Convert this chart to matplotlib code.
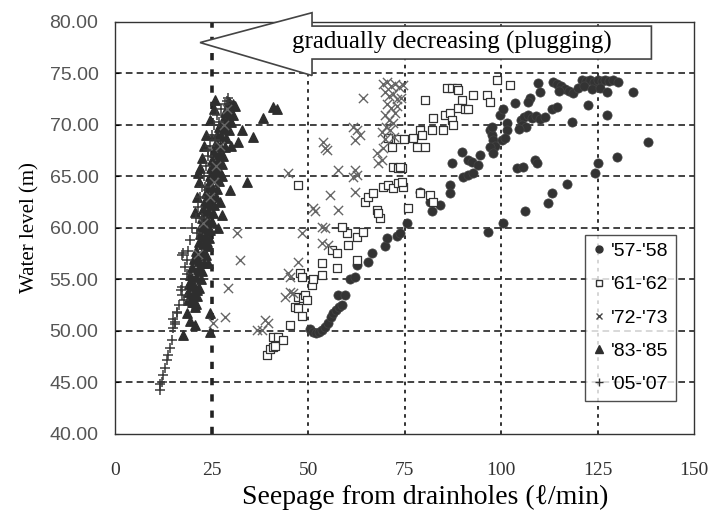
import matplotlib
matplotlib.use('Agg')
import matplotlib.pyplot as plt
from matplotlib import patches
from matplotlib.lines import Line2D

# '57-'58 (filled circles)
s57_x = [50.5, 51.2, 52.0, 52.8, 53.6, 54.4, 55.2, 55.8, 56.5, 57.2, 58.0, 58.8, 57.8, 59.6,
         60.9, 62.2, 62.7, 65.5, 66.6, 70.0, 70.5, 73.0, 73.8, 75.6, 79.0, 81.6, 82.1, 84.2,
         86.8, 86.8, 87.3, 89.9, 90.2, 91.5, 92.7, 91.5, 92.5, 94.0, 94.6, 96.6, 100.5, 97.0,
         97.7, 98.0, 98.4, 97.0, 98.0, 97.7, 99.7, 100.5, 101.6, 101.6, 100.3, 101.0, 103.6,
         107.5, 107.0, 109.6, 110.1, 105.0, 106.0, 107.0, 108.0, 109.0, 110.0, 105.5, 106.5,
         104.5, 108.8, 109.3, 104.1, 105.7, 111.4, 113.2, 114.5, 113.2, 112.2, 106.2, 117.1,
         113.5, 114.5, 115.5, 116.5, 117.5, 118.7, 115.0, 121.0, 122.0, 123.0, 124.0, 125.0,
         126.0, 127.0, 128.0, 129.0, 130.3, 120.0, 121.5, 123.5, 125.5, 127.5, 122.5, 127.5,
         134.2, 118.4, 138.1, 130.0, 125.1, 124.3]
s57_y = [50.2, 49.9, 49.8, 49.9, 50.1, 50.4, 50.8, 51.3, 51.7, 52.0, 52.3, 52.5, 53.5, 53.5,
         55.0, 55.2, 56.4, 56.7, 57.6, 58.2, 59.0, 59.2, 59.5, 60.5, 63.5, 62.5, 61.6, 62.2,
         64.2, 63.4, 66.3, 67.4, 64.9, 65.1, 65.3, 66.6, 66.4, 66.1, 67.1, 59.6, 60.5, 69.5,
         69.0, 68.5, 68.0, 67.9, 67.3, 69.8, 71.0, 71.5, 70.2, 69.5, 68.5, 68.7, 72.1,
         72.6, 72.2, 74.1, 73.2, 70.5, 70.8, 71.0, 70.7, 70.9, 70.6, 70.0, 69.8,
         69.6, 66.6, 66.3, 65.8, 65.9, 70.8, 71.5, 71.7, 63.4, 62.4, 61.6, 64.3,
         74.2, 74.0, 73.8, 73.5, 73.3, 73.1, 73.3, 74.4, 74.3, 74.4, 74.2, 74.4,
         74.3, 74.4, 74.3, 74.4, 74.2, 73.6, 73.8, 73.5, 73.6, 73.2, 71.9, 71.0,
         73.2, 70.3, 68.3, 66.9, 66.3, 65.3]

# '61-'62 (open squares)
s61_x = [39.4, 40.2, 40.9, 41.5, 40.9, 42.2, 43.5, 45.3, 46.6, 47.4, 48.4, 47.4, 48.7, 49.2,
         49.7, 47.9, 48.4, 51.0, 51.3, 53.6, 53.6, 57.5, 56.2, 57.5, 60.4, 62.7, 60.1, 62.7,
         64.2, 58.8, 47.4, 64.8, 65.5, 66.8, 67.9, 68.7, 68.1, 69.4, 70.7, 72.0, 73.3, 74.6,
         72.0, 73.3, 74.4, 70.7, 71.8, 73.3, 74.9, 77.2, 78.2, 80.3, 79.0, 79.5, 82.1, 82.4,
         85.0, 85.5, 86.8, 87.3, 87.6, 80.3, 86.0, 87.3, 88.6, 88.9, 89.9, 88.9, 90.7, 91.5,
         92.7, 96.4, 97.2, 99.0, 102.3, 73.8, 74.4, 75.9, 79.0, 81.6, 82.4]
s61_y = [47.7, 48.2, 48.4, 48.5, 49.4, 49.4, 49.1, 50.6, 52.3, 52.2, 51.4, 53.3, 53.2, 53.5,
         53.0, 55.6, 55.2, 54.5, 55.0, 55.4, 56.6, 56.1, 57.9, 57.6, 58.3, 56.9, 59.5, 59.1,
         59.6, 60.1, 64.2, 62.5, 63.0, 63.4, 61.7, 61.0, 61.4, 64.0, 64.2, 63.9, 64.4, 64.0,
         65.9, 65.8, 65.8, 68.7, 67.9, 68.6, 68.6, 68.7, 67.9, 67.9, 69.5, 69.0, 69.5, 70.7,
         69.5, 71.0, 71.2, 70.5, 70.0, 72.4, 73.6, 73.6, 73.6, 73.4, 72.4, 71.6, 71.5, 71.5,
         72.9, 72.9, 72.2, 74.4, 73.9, 65.9, 64.5, 61.9, 63.4, 63.2, 62.5]

# '72-'73 (x marks)
s72_x = [64.2, 61.7, 62.7, 63.5, 62.2, 53.9, 54.4, 54.9, 57.8, 62.2, 62.7, 61.7, 44.8, 55.7,
         62.2, 51.3, 51.8, 57.8, 53.6, 54.4, 48.4, 67.9, 69.2, 68.1, 53.6, 55.2, 47.4, 44.8,
         45.3, 44.0, 45.3, 46.1, 38.9, 39.6, 36.8, 38.1, 32.4, 29.3, 25.4, 28.5, 31.6,
         69.5, 70.5, 71.5, 72.5, 73.5, 74.5, 70.0, 71.0, 72.0, 73.0, 70.5, 71.5, 72.5, 69.8,
         71.0, 72.0, 70.2, 69.0, 71.2, 70.0, 72.3, 69.5, 73.0, 74.0,
         26.0, 27.2, 28.3, 24.5, 22.8, 21.5, 25.5, 29.0]
s72_y = [72.6, 69.8, 69.5, 69.0, 68.5, 68.3, 67.8, 67.6, 65.6, 65.6, 65.1, 64.9, 65.3, 63.2,
         63.5, 61.9, 61.6, 61.7, 60.1, 60.0, 59.5, 67.3, 66.6, 66.3, 58.5, 58.3, 56.7, 55.6,
         55.2, 53.3, 53.8, 53.7, 51.1, 50.8, 50.1, 50.1, 56.9, 54.2, 50.8, 51.3, 59.5,
         74.0, 74.2, 73.8, 74.0, 73.7, 73.9, 73.2, 72.8, 73.0, 72.5, 72.0, 71.6, 71.2, 71.0,
         70.5, 70.2, 69.8, 69.3, 69.5, 68.6, 68.8, 67.8, 71.8, 72.6,
         66.0, 68.0, 70.0, 63.0, 60.5, 57.5, 64.5, 71.5]

# '83-'85 (filled triangles)
s83_x = [40.9, 42.0, 38.3, 35.8, 32.9, 31.9, 34.2, 29.8, 27.7, 23.8, 21.5, 24.1, 22.0, 19.4,
         21.2, 20.2, 20.7, 18.7, 17.6, 24.6, 24.6, 20.7,
         29.5, 30.5, 31.0, 28.5, 29.5, 30.5, 28.0, 29.0, 30.0, 27.0, 28.3, 29.5, 26.5, 27.5,
         28.8, 26.0, 27.2, 28.5, 25.5, 26.8, 28.0, 25.2, 26.5, 27.6, 24.8, 26.0, 27.2, 24.5,
         25.6, 26.8, 24.0, 25.2, 26.4, 23.6, 24.8, 26.0, 23.2, 24.4, 25.6, 22.8, 24.0, 25.3,
         22.5, 23.7, 25.0, 22.2, 23.4, 24.6, 22.0, 23.2, 24.3, 21.6, 22.8, 24.0, 21.0, 22.4,
         23.6, 20.5, 21.8, 23.0, 20.0, 21.4, 22.6, 19.5, 21.0, 22.2, 19.2, 20.5, 21.6, 19.0,
         20.2, 21.2, 18.8, 20.0, 21.0, 19.5, 20.6,
         25.5, 24.5, 23.5, 23.0, 22.5, 22.0, 21.6, 21.2, 20.8, 27.8, 27.2, 26.6, 30.0, 25.8]
s83_y = [71.7, 71.5, 70.7, 68.8, 69.5, 68.3, 64.5, 63.7, 61.3, 58.6, 65.3, 56.6, 55.9, 54.7,
         54.0, 52.8, 52.3, 51.7, 49.6, 51.7, 49.9, 57.2,
         72.2, 72.0, 71.8, 71.3, 71.2, 71.0, 70.5, 70.4, 70.3, 69.8, 69.6, 69.5, 69.0, 68.9,
         68.7, 68.2, 68.0, 67.9, 67.4, 67.2, 67.0, 66.6, 66.4, 66.2, 65.8, 65.6, 65.4, 65.0,
         64.8, 64.6, 64.2, 64.0, 63.8, 63.4, 63.2, 63.0, 62.6, 62.4, 62.2, 61.8, 61.6, 61.4,
         61.0, 60.8, 60.6, 60.2, 60.0, 59.8, 59.4, 59.2, 59.0, 58.6, 58.4, 58.2, 57.8, 57.6,
         57.4, 57.0, 56.8, 56.6, 56.2, 56.0, 55.8, 55.4, 55.2, 55.0, 54.6, 54.4, 54.2, 53.8,
         53.6, 53.4, 53.0, 52.8, 52.6, 51.0, 50.6,
         71.5, 70.5, 69.0, 68.0, 66.8, 65.8, 64.5, 63.0, 61.5, 65.0, 62.5, 60.0, 68.0, 72.4]

# '05-'07 (plus)
s05_x = [11.7, 11.5, 12.2, 12.4, 13.0, 13.5, 13.7, 14.2, 14.8, 15.0, 15.5, 16.0, 16.5, 17.4,
         17.0, 17.4, 18.1, 17.4, 18.5, 19.4, 18.8, 17.8, 17.6, 18.7, 16.0, 15.0, 15.5,
         20.0, 21.0, 21.5, 22.0, 22.5, 23.0, 23.5, 24.0, 24.5, 25.0, 25.5, 26.5, 27.5, 28.5,
         29.3, 29.0, 22.5, 24.1, 21.2, 23.2, 25.8, 27.0]
s05_y = [44.3, 44.8, 45.0, 45.7, 46.4, 47.2, 47.7, 48.3, 49.1, 50.3, 50.9, 51.7, 52.5, 53.5,
         54.0, 54.3, 56.2, 57.4, 55.5, 58.8, 57.8, 53.0, 57.6, 56.9, 51.8, 51.2, 50.7,
         60.0, 61.0, 62.0, 63.0, 64.0, 65.0, 66.0, 67.0, 68.0, 69.0, 70.0, 71.0, 71.5, 72.0,
         72.6, 72.3, 61.0, 67.6, 59.5, 64.0, 68.5, 70.3]

labels = ["'57-'58", "'61-'62", "'72-'73", "'83-'85", "'05-'07"]
x_ticks = [0, 25, 50, 75, 100, 125, 150]
y_ticks = [40, 45, 50, 55, 60, 65, 70, 75, 80]
arrow_text = 'gradually decreasing (plugging)'

serif = ['Liberation Serif', 'DejaVu Serif']
sans = ['Liberation Sans', 'DejaVu Sans']

fig = plt.figure(figsize=(7.15, 5.11), dpi=100)
ax = fig.add_axes([0.161, 0.151, 0.810, 0.806])

ax.scatter(s57_x, s57_y, marker='o', s=44, color='#333333', edgecolors='#444444',
           linewidths=0.5, zorder=3)
ax.scatter(s61_x, s61_y, marker='s', s=40, facecolors='white', edgecolors='#333333',
           linewidths=0.9, zorder=3)
ax.scatter(s72_x, s72_y, marker='x', s=44, color='#666666', linewidths=1.0, zorder=4)
ax.scatter(s83_x, s83_y, marker='^', s=46, color='#2e2e2e', zorder=3)
ax.scatter(s05_x, s05_y, marker='+', s=55, color='#3a3a3a', linewidths=1.1, zorder=4)

ax.set_xlim(0, 150)
ax.set_ylim(40, 80)
ax.set_xticks(x_ticks)
ax.set_yticks(y_ticks)
ax.set_xticklabels([str(v) for v in x_ticks], family=serif, fontsize=14, color='#333333')
ax.set_yticklabels(['%.2f' % v for v in y_ticks], family=sans, fontsize=14, color='#555555')
ax.tick_params(axis='x', length=0, pad=20)
ax.tick_params(axis='y', direction='in', length=3, pad=12)

# grid lines
for yv in y_ticks[1:-1]:
    ax.axhline(yv, color='#222222', lw=1.2, dashes=(4, 2.5), zorder=1)
for xv in x_ticks[1:-1]:
    lw = 2.6 if xv == 25 else 1.3
    ax.axvline(xv, color='#222222', lw=lw, dashes=(2, 2.5), zorder=1)

for sp in ax.spines.values():
    sp.set_linewidth(1.0)
    sp.set_color('#333333')

ax.set_xlabel('Seepage from drainholes (\u2113/min)', family=serif, fontsize=20)
ax.xaxis.set_label_coords(0.535, -0.125)
ax.set_ylabel('Water level (m)', family=serif, fontsize=15, labelpad=7)

# big outlined arrow at the top
arrow = patches.Polygon([(22.0, 78.0), (51.0, 80.9), (51.0, 79.6), (138.9, 79.6),
                         (138.9, 76.4), (51.0, 76.4), (51.0, 74.8)],
                        closed=True, facecolor='white', edgecolor='#444444', lw=1.2,
                        clip_on=False, zorder=6)
ax.add_patch(arrow)
ax.text(87.3, 78.0, arrow_text, family=serif, fontsize=18, ha='center', va='center',
        zorder=7)

handles = [
    Line2D([], [], ls='none', marker='o', ms=5, color='#333333'),
    Line2D([], [], ls='none', marker='s', ms=5, mfc='white', mec='#333333'),
    Line2D([], [], ls='none', marker='x', ms=5, color='#444444'),
    Line2D([], [], ls='none', marker='^', ms=6, color='#2e2e2e'),
    Line2D([], [], ls='none', marker='+', ms=6, color='#333333'),
]
leg = ax.legend(handles, labels, loc='upper left', bbox_to_anchor=(0.812, 0.483),
                borderaxespad=0, frameon=True, fancybox=False, handlelength=0.6,
                handletextpad=0.3, labelspacing=0.8, borderpad=0.4,
                prop={'family': sans, 'size': 14})
leg.get_frame().set_edgecolor('#222222')
leg.get_frame().set_linewidth(1.0)
leg.set_zorder(8)

fig.savefig('out.png', dpi=100)
